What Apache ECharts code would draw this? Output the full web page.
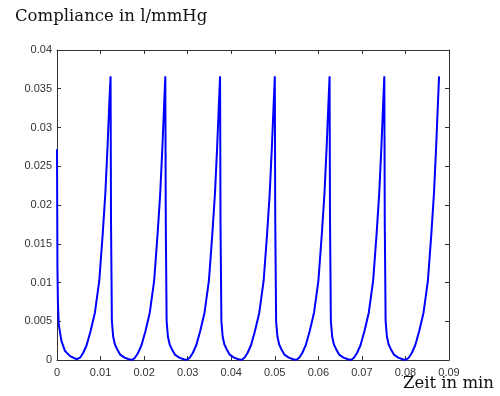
<!DOCTYPE html>
<html>
<head>
<meta charset="utf-8">
<script src="https://cdn.jsdelivr.net/npm/echarts@6/dist/echarts.min.js"></script>
<style>html,body{margin:0;padding:0;background:#fff;}#c{width:500px;height:396px;}</style>
</head>
<body>
<div id="c"></div>
<script>
// Chart text
const yTitle = "Compliance in l/mmHg";
const xTitle = "Zeit in min";
const xTicks = [0, 0.01, 0.02, 0.03, 0.04, 0.05, 0.06, 0.07, 0.08, 0.09];
const yTicks = [0, 0.005, 0.01, 0.015, 0.02, 0.025, 0.03, 0.035, 0.04];

// Time (min)
const time = [
  0, 0.0001, 0.0002, 0.0004, 0.0010, 0.0018, 0.0030, 0.0045,
  0.0053, 0.0060, 0.0068, 0.0077, 0.0087, 0.0097, 0.0105, 0.0111, 0.0116, 0.0120,
  0.0123, 0.0124, 0.0126, 0.0129, 0.0133, 0.0138, 0.0145, 0.0155, 0.0165, 0.0172,
  0.0179, 0.0186, 0.0194, 0.0203, 0.0213, 0.0223, 0.0231, 0.0237, 0.0242, 0.0246,
  0.02487, 0.02497, 0.02517, 0.02547, 0.02587, 0.02637, 0.02707, 0.02807, 0.02907, 0.02977,
  0.03047, 0.03117, 0.03197, 0.03287, 0.03387, 0.03487, 0.03567, 0.03627, 0.03677, 0.03717,
  0.03744, 0.03754, 0.03774, 0.03804, 0.03844, 0.03894, 0.03964, 0.04064, 0.04164, 0.04234,
  0.04304, 0.04374, 0.04454, 0.04544, 0.04644, 0.04744, 0.04824, 0.04884, 0.04934, 0.04974,
  0.05001, 0.05011, 0.05031, 0.05061, 0.05101, 0.05151, 0.05221, 0.05321, 0.05421, 0.05491,
  0.05561, 0.05631, 0.05711, 0.05801, 0.05901, 0.06001, 0.06081, 0.06141, 0.06191, 0.06231,
  0.06258, 0.06268, 0.06288, 0.06318, 0.06358, 0.06408, 0.06478, 0.06578, 0.06678, 0.06748,
  0.06818, 0.06888, 0.06968, 0.07058, 0.07158, 0.07258, 0.07338, 0.07398, 0.07448, 0.07488,
  0.07515, 0.07525, 0.07545, 0.07575, 0.07615, 0.07665, 0.07735, 0.07835, 0.07935, 0.08005,
  0.08075, 0.08145, 0.08225, 0.08315, 0.08415, 0.08515, 0.08595, 0.08655, 0.08705, 0.08745,
  0.08772
];

// Compliance (l/mmHg)
const compliance = [
  0.0272, 0.0120, 0.0076, 0.0046, 0.0025, 0.0012, 0.0005, 0.0001,
  0.0003, 0.0009, 0.0019, 0.0037, 0.0061, 0.0102, 0.0163, 0.0215, 0.0275, 0.0330,
  0.0366, 0.0180, 0.0050, 0.0030, 0.0020, 0.0014, 0.0007, 0.0003, 0.0001, 0.0000,
  0.0003, 0.0009, 0.0019, 0.0037, 0.0061, 0.0102, 0.0163, 0.0215, 0.0275, 0.0330,
  0.0366, 0.0180, 0.0050, 0.0030, 0.0020, 0.0014, 0.0007, 0.0003, 0.0001, 0.0000,
  0.0003, 0.0009, 0.0019, 0.0037, 0.0061, 0.0102, 0.0163, 0.0215, 0.0275, 0.0330,
  0.0366, 0.0180, 0.0050, 0.0030, 0.0020, 0.0014, 0.0007, 0.0003, 0.0001, 0.0000,
  0.0003, 0.0009, 0.0019, 0.0037, 0.0061, 0.0102, 0.0163, 0.0215, 0.0275, 0.0330,
  0.0366, 0.0180, 0.0050, 0.0030, 0.0020, 0.0014, 0.0007, 0.0003, 0.0001, 0.0000,
  0.0003, 0.0009, 0.0019, 0.0037, 0.0061, 0.0102, 0.0163, 0.0215, 0.0275, 0.0330,
  0.0366, 0.0180, 0.0050, 0.0030, 0.0020, 0.0014, 0.0007, 0.0003, 0.0001, 0.0000,
  0.0003, 0.0009, 0.0019, 0.0037, 0.0061, 0.0102, 0.0163, 0.0215, 0.0275, 0.0330,
  0.0366, 0.0180, 0.0050, 0.0030, 0.0020, 0.0014, 0.0007, 0.0003, 0.0001, 0.0000,
  0.0003, 0.0009, 0.0019, 0.0037, 0.0061, 0.0102, 0.0163, 0.0215, 0.0275, 0.0330,
  0.0366
];

const points = time.map((t, i) => [t, compliance[i]]);
const fmt = v => {
  const all = xTicks.concat(yTicks);
  let best = all[0];
  for (const a of all) if (Math.abs(a - v) < Math.abs(best - v)) best = a;
  return String(best);
};

const axisLineColor = '#333';
const labelStyle = { fontFamily: 'Liberation Sans, Arial, sans-serif', fontSize: 11, color: '#333' };

const chart = echarts.init(document.getElementById('c'), null, { renderer: 'canvas' });
chart.setOption({
  animation: false,
  backgroundColor: '#fff',
  grid: { left: 57, right: 51, top: 50, bottom: 36, containLabel: false },
  xAxis: [
    {
      type: 'value', min: xTicks[0], max: xTicks[xTicks.length - 1], interval: 0.01,
      axisLine: { show: true, onZero: false, lineStyle: { color: axisLineColor, width: 1 } },
      axisTick: { show: true, inside: true, length: 4, lineStyle: { color: axisLineColor } },
      axisLabel: Object.assign({ margin: 7, formatter: fmt }, labelStyle),
      splitLine: { show: false }
    },
    {
      type: 'value', position: 'top', min: xTicks[0], max: xTicks[xTicks.length - 1], interval: 0.01,
      axisLine: { show: true, onZero: false, lineStyle: { color: axisLineColor, width: 1 } },
      axisTick: { show: true, inside: true, length: 4, lineStyle: { color: axisLineColor } },
      axisLabel: { show: false },
      splitLine: { show: false }
    }
  ],
  yAxis: [
    {
      type: 'value', min: yTicks[0], max: yTicks[yTicks.length - 1], interval: 0.005,
      axisLine: { show: true, onZero: false, lineStyle: { color: axisLineColor, width: 1 } },
      axisTick: { show: true, inside: true, length: 4, lineStyle: { color: axisLineColor } },
      axisLabel: Object.assign({ margin: 5, formatter: fmt }, labelStyle),
      splitLine: { show: false }
    },
    {
      type: 'value', position: 'right', min: yTicks[0], max: yTicks[yTicks.length - 1], interval: 0.005,
      axisLine: { show: true, onZero: false, lineStyle: { color: axisLineColor, width: 1 } },
      axisTick: { show: true, inside: true, length: 4, lineStyle: { color: axisLineColor } },
      axisLabel: { show: false },
      splitLine: { show: false }
    }
  ],
  series: [{
    type: 'line',
    xAxisIndex: 0,
    yAxisIndex: 0,
    data: points,
    showSymbol: false,
    symbol: 'none',
    smooth: false,
    lineStyle: { color: '#0000ff', width: 2 },
    clip: true
  }],
  graphic: [
    {
      type: 'text', left: 15, top: 8,
      style: { text: yTitle, font: '16.5px "DejaVu Serif", serif', fill: '#111' }
    },
    {
      type: 'text', right: 6, top: 375,
      style: { text: xTitle, font: '16.5px "DejaVu Serif", serif', fill: '#111' }
    }
  ]
});
</script>
</body>
</html>
